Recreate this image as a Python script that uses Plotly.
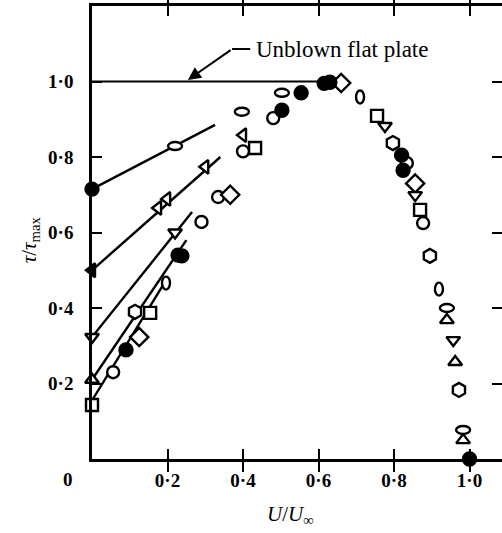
import plotly.graph_objects as go

# ---- tick positions and labels ----
x_ticks = [0.2, 0.4, 0.6, 0.8, 1.0]
x_tick_text = ["0·2", "0·4", "0·6", "0·8", "1·0"]
y_ticks = [0.2, 0.4, 0.6, 0.8, 1.0]
y_tick_text = ["0·2", "0·4", "0·6", "0·8", "1·0"]

# ---- measured shear-stress ratio tau/tau_max against U/U_inf ----
filled_circle_x = [0.0, 0.09, 0.228, 0.238, 0.503, 0.554, 0.615, 0.63, 0.82, 0.824, 1.0]
filled_circle_y = [0.715, 0.289, 0.54, 0.538, 0.924, 0.97, 0.995, 0.998, 0.805, 0.765, 0.0]

open_circle_x = [0.056, 0.29, 0.334, 0.40, 0.48, 0.834, 0.877]
open_circle_y = [0.23, 0.628, 0.694, 0.815, 0.903, 0.784, 0.625]

hexagon_x = [0.114, 0.797, 0.895, 0.972]
hexagon_y = [0.39, 0.837, 0.538, 0.183]

diamond_x = [0.125, 0.366, 0.66, 0.856]
diamond_y = [0.323, 0.70, 0.996, 0.73]

square_x = [0.0, 0.154, 0.432, 0.755, 0.869]
square_y = [0.143, 0.387, 0.824, 0.909, 0.66]

tri_up_x = [0.0, 0.94, 0.962, 0.983]
tri_up_y = [0.21, 0.368, 0.257, 0.05]

tri_down_x = [0.0, 0.22, 0.776, 0.856, 0.957]
tri_down_y = [0.323, 0.60, 0.882, 0.699, 0.315]

tri_left_x = [0.0, 0.175, 0.199, 0.30, 0.40]
tri_left_y = [0.50, 0.665, 0.689, 0.774, 0.858]

flat_ellipse_x = [0.22, 0.397, 0.503, 0.94, 0.983]
flat_ellipse_y = [0.829, 0.92, 0.97, 0.40, 0.077]

tall_ellipse_x = [0.196, 0.71, 0.919]
tall_ellipse_y = [0.466, 0.959, 0.45]

# near-wall straight-line fits: (x0, y0, x1, y1)
fit_x0 = [0.0, 0.0, 0.0, 0.0, 0.0]
fit_y0 = [0.715, 0.50, 0.323, 0.21, 0.155]
fit_x1 = [0.326, 0.34, 0.265, 0.25, 0.20]
fit_y1 = [0.885, 0.80, 0.654, 0.58, 0.48]

# unblown flat plate reference level
unblown_x = [0.0, 0.62]
unblown_y = [1.0, 1.0]

SERIF = "Liberation Serif, Times New Roman, serif"
LW = 2.4

fig = go.Figure()

for x0, y0, x1, y1 in zip(fit_x0, fit_y0, fit_x1, fit_y1):
    fig.add_trace(go.Scatter(x=[x0, x1], y=[y0, y1], mode="lines",
                             line=dict(color="black", width=2.4),
                             showlegend=False, hoverinfo="skip"))

fig.add_trace(go.Scatter(x=unblown_x, y=unblown_y, mode="lines", yaxis="y2",
                         line=dict(color="black", width=2.2),
                         showlegend=False, hoverinfo="skip"))


def add_markers(xs, ys, symbol, size, filled=False):
    fig.add_trace(go.Scatter(
        x=xs, y=ys, mode="markers", showlegend=False, cliponaxis=False,
        marker=dict(symbol=symbol, size=size,
                    color="black" if filled else "white",
                    line=dict(color="black", width=LW))))


add_markers(open_circle_x, open_circle_y, "circle", 12)
add_markers(hexagon_x, hexagon_y, "hexagon", 14)
add_markers(diamond_x, diamond_y, "diamond", 14)
add_markers(square_x, square_y, "square", 12)
add_markers(tri_up_x, tri_up_y, "triangle-up", 12)
add_markers(tri_down_x, tri_down_y, "triangle-down", 12)
add_markers(tri_left_x[1:], tri_left_y[1:], "triangle-left", 12)
add_markers(tri_left_x[:1], tri_left_y[:1], "triangle-left", 12, filled=True)
add_markers(filled_circle_x, filled_circle_y, "circle", 13, filled=True)

# oval symbols drawn as fixed-pixel ellipses anchored at the data points
for xv, yv in zip(flat_ellipse_x, flat_ellipse_y):
    fig.add_shape(type="circle", xref="x", yref="y",
                  xsizemode="pixel", ysizemode="pixel",
                  xanchor=xv, yanchor=yv, x0=-7, x1=7, y0=-4, y1=4,
                  line=dict(color="black", width=LW), fillcolor="white")
for xv, yv in zip(tall_ellipse_x, tall_ellipse_y):
    fig.add_shape(type="circle", xref="x", yref="y",
                  xsizemode="pixel", ysizemode="pixel",
                  xanchor=xv, yanchor=yv, x0=-4, x1=4, y0=-6.5, y1=6.5,
                  line=dict(color="black", width=LW), fillcolor="white")

# label with leader arrow
fig.add_annotation(x=0.429, y=1.086, xref="x", yref="y", xanchor="left",
                   yanchor="middle", text="Unblown flat plate", showarrow=False,
                   font=dict(family=SERIF, size=23, color="black"))
fig.add_annotation(x=0.254, y=1.004, xref="x", yref="y", text="",
                   showarrow=True, axref="x", ayref="y", ax=0.371, ay=1.086,
                   arrowhead=2, arrowsize=1.3, arrowwidth=2, arrowcolor="black")
fig.add_shape(type="line", xref="x", yref="y", x0=0.371, x1=0.419,
              y0=1.086, y1=1.086, line=dict(color="black", width=2))

# origin label and axis titles
fig.add_annotation(x=0, y=0, xref="x", yref="y", text="<b>0</b>", showarrow=False,
                   xshift=-24, yshift=-20,
                   font=dict(family=SERIF, size=19, color="black"))
fig.add_annotation(x=0.485, y=0, xref="paper", yref="paper",
                   xanchor="center", yanchor="middle",
                   text="<i>U</i>/<i>U</i><sub>∞</sub>", showarrow=False,
                   yshift=-56, font=dict(family=SERIF, size=21, color="black"))
fig.add_annotation(x=-0.151, y=0.483, xref="paper", yref="paper",
                   xanchor="center", yanchor="middle",
                   text="<i>τ</i>/<i>τ</i><sub>max</sub>", showarrow=False,
                   textangle=-90, font=dict(family=SERIF, size=21, color="black"))

axis_common = dict(showgrid=False, zeroline=False, ticks="inside",
                   ticklen=10, tickwidth=2, tickcolor="black",
                   tickfont=dict(family=SERIF, size=19, color="black",
                                 weight="bold"))

fig.update_layout(
    width=502, height=533,
    margin=dict(l=92, r=0, t=6, b=74),
    paper_bgcolor="white", plot_bgcolor="white",
    showlegend=False,
    xaxis=dict(range=[0, 1.086], tickvals=x_ticks, ticktext=x_tick_text,
               showline=True, linewidth=2.6, linecolor="black",
               mirror="allticks", ticklabelstandoff=2, **axis_common),
    yaxis=dict(range=[0, 1.2], tickvals=y_ticks, ticktext=y_tick_text,
               showline=True, linewidth=2.6, linecolor="black",
               ticklabelstandoff=12, **axis_common),
    yaxis2=dict(range=[0, 1.2], overlaying="y", side="right",
                tickvals=y_ticks, showticklabels=False, showline=False,
                **axis_common),
)

fig.write_html("out.html")
